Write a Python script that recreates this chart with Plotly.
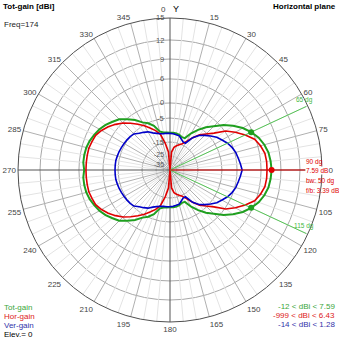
import numpy as np
import plotly.graph_objects as go

# ---------------- data (dBi, azimuth in degrees, clockwise from Y) ----------------
ANGLES = list(range(0, 361, 5))

TOT_GAIN = [
    -11.1, -11.1, -11.2, -11.5, -12.1, -12.0, -9.0, -6.25, -3.7, -1.7,
    0.75, 2.5, 4.25, 5.63, 6.5, 7.0, 7.35, 7.5, 7.59,
    7.5, 7.35, 7.0, 6.5, 5.63, 4.25, 2.5, 0.75, -1.7, -3.7,
    -6.25, -9.0, -12.0, -12.1, -11.5, -11.2, -11.1, -11.1,
    -11.0, -10.8, -10.0, -7.1, -5.2, -4.0, -2.0, -0.3, 1.2, 2.0,
    2.9, 3.6, 4.1, 4.6, 4.9, 5.0, 5.0,
    4.7, 5.0, 5.0, 4.9, 4.6, 4.1, 3.6, 2.9, 2.0, 1.2,
    -0.3, -2.0, -4.0, -5.2, -7.1, -10.0, -10.8, -11.0,
    -11.1,
]

HOR_GAIN = [
    -999, -22.1, -18.6, -17.1, -15.7, -14.6, -12.9, -10.2, -7.5, -5.4,
    -3.2, 0.25, 2.1, 4.0, 5.75, 6.4, 6.8, 6.9, 6.9,
    6.9, 6.8, 6.4, 5.75, 4.0, 2.1, 0.25, -3.2, -5.4,
    -7.5, -10.2, -12.9, -14.6, -15.7, -17.1, -18.6, -22.1, -999,
    -22.1, -15.7, -11.25, -9.2, -7.5, -5.4, -3.7, -2.0, -0.2, 1.0,
    2.1, 3.0, 3.75, 4.0, 4.25, 4.25, 4.25,
    4.25, 4.25, 4.25, 4.25, 4.0, 3.75, 3.0, 2.1, 1.0, -0.2,
    -2.0, -3.7, -5.4, -7.5, -9.2, -11.25, -15.7, -22.1,
    -999,
]

VER_GAIN = [
    -11.4, -11.5, -11.7, -11.9, -12.9, -13.75, -13.75, -10.2, -7.9, -6.25,
    -4.67, -3.3, -2.3, -1.2, -0.33, 0.25, 0.55, 0.9, 1.28,
    0.9, 0.55, 0.25, -0.33, -1.2, -2.3, -3.3, -4.67, -6.25,
    -7.9, -10.2, -13.75, -13.75, -12.9, -11.9, -11.7, -11.5, -11.4,
    -11.3, -11.25, -11.0, -10.4, -9.6, -8.3, -7.5, -6.7, -5.4, -5.0,
    -4.83, -4.67, -4.5, -4.3, -4.17, -4.0, -4.0,
    -4.0, -4.0, -4.0, -4.17, -4.3, -4.5, -4.67, -4.83, -5.0, -5.4,
    -6.7, -7.5, -8.3, -9.6, -10.4, -11.0, -11.25, -11.3,
    -11.4,
]

RING_DB = [15, 12, 9, 6, 0, -5, -15, -25, -35]
RING_LABELS = ["15", "12", "9", "6", "0", "-5", "-15", "-25", "-35"]
ANGLE_TICKS = list(range(0, 360, 15))
ANGLE_LABELS = [""] + [str(a) for a in ANGLE_TICKS[1:]]

MAX_DIR = 90
BW_LOW = 65
BW_HIGH = 115
MAX_GAIN = 7.59
FB_RATIO = 3.39
FREQ = 174
ELEV = 0
TOT_RANGE = ("-12", "7.59")
HOR_RANGE = ("-999", "6.43")
VER_RANGE = ("-14", "1.28")

# --------------- radial log-like scale (dB -> fraction of radius) ---------------
SCALE_DB = [-50, -35, -25, -15, -5, 0, 6, 9, 12, 15]
SCALE_FRAC = [0.0, 0.046, 0.092, 0.184, 0.342, 0.441, 0.599, 0.730, 0.855, 1.0]


def to_r(db):
    return np.interp(np.asarray(db, dtype=float), SCALE_DB, SCALE_FRAC)


W = H = 339
CX, CY, RAD = 170, 170, 152

GREEN = "#1f9f1f"
RED = "#e00000"
BLUE = "#0000c8"
FONT = "Liberation Sans"

fig = go.Figure()


def spokes(angles, r0, r1):
    rr, tt = [], []
    for a in angles:
        rr += [r0, r1, None]
        tt += [a, a, None]
    return rr, tt


minor = [a for a in range(0, 360, 5) if a % 15]
major = [a for a in range(0, 360, 15) if a % 90]
rr, tt = spokes(minor, 0.046, 1.0)
fig.add_trace(go.Scatterpolar(r=rr, theta=tt, mode="lines",
                              line=dict(color="#e3e3e3", width=1),
                              hoverinfo="skip", showlegend=False))
rr, tt = spokes(major, 0.0, 1.0)
fig.add_trace(go.Scatterpolar(r=rr, theta=tt, mode="lines",
                              line=dict(color="#b0b0b0", width=1),
                              hoverinfo="skip", showlegend=False))
rr, tt = spokes([0, 90, 180, 270], 0.0, 1.0)
fig.add_trace(go.Scatterpolar(r=rr, theta=tt, mode="lines",
                              line=dict(color="#555555", width=1),
                              hoverinfo="skip", showlegend=False))

# patterns
for vals, col, wd in [(TOT_GAIN, GREEN, 2), (HOR_GAIN, RED, 1.6), (VER_GAIN, BLUE, 1.6)]:
    fig.add_trace(go.Scatterpolar(r=to_r(vals), theta=ANGLES, mode="lines",
                                  line=dict(color=col, width=wd),
                                  hoverinfo="skip", showlegend=False))

# beamwidth and max-direction lines
rr, tt = spokes([BW_LOW, BW_HIGH], 0.0, 0.99)
fig.add_trace(go.Scatterpolar(r=rr, theta=tt, mode="lines",
                              line=dict(color="#55c455", width=1),
                              hoverinfo="skip", showlegend=False))
fig.add_trace(go.Scatterpolar(r=[0, 0.89], theta=[MAX_DIR, MAX_DIR], mode="lines",
                              line=dict(color=RED, width=1),
                              hoverinfo="skip", showlegend=False))

i_lo, i_hi, i_mx = ANGLES.index(BW_LOW), ANGLES.index(BW_HIGH), ANGLES.index(MAX_DIR)
fig.add_trace(go.Scatterpolar(r=to_r([TOT_GAIN[i_lo], TOT_GAIN[i_hi]]),
                              theta=[BW_LOW, BW_HIGH], mode="markers",
                              marker=dict(color=GREEN, size=6),
                              hoverinfo="skip", showlegend=False))
fig.add_trace(go.Scatterpolar(r=to_r([TOT_GAIN[i_mx]]), theta=[MAX_DIR], mode="markers",
                              marker=dict(color=RED, size=6),
                              hoverinfo="skip", showlegend=False))

dom_x = [(CX - RAD) / W, (CX + RAD) / W]
dom_y = [1 - (CY + RAD) / H, 1 - (CY - RAD) / H]

fig.update_layout(
    width=W, height=H,
    margin=dict(l=0, r=0, t=0, b=0),
    paper_bgcolor="white",
    showlegend=False,
    font=dict(family=FONT, size=8, color="#333333"),
    polar=dict(
        domain=dict(x=dom_x, y=dom_y),
        bgcolor="white",
        angularaxis=dict(
            rotation=90, direction="clockwise",
            tickmode="array", tickvals=ANGLE_TICKS, ticktext=ANGLE_LABELS,
            showgrid=False, showline=True, linecolor="#505050", linewidth=1,
            ticks="", tickfont=dict(size=8, color="#444444", family=FONT),
        ),
        radialaxis=dict(
            range=[0, 1], tickmode="array",
            tickvals=list(to_r(RING_DB)), ticktext=RING_LABELS,
            showgrid=True, gridcolor="#a8a8a8", gridwidth=1,
            showline=False, ticks="", angle=90,
            showticklabels=False,
        ),
    ),
)


def px(x, y):
    return x / W, 1 - y / H


def note(text, x, y, color="#000000", xanchor="left", size=8, bold=False, bg=None):
    xx, yy = px(x, y)
    if bold:
        text = "<b>" + text + "</b>"
    fig.add_annotation(text=text, x=xx, y=yy, xref="paper", yref="paper",
                       xanchor=xanchor, yanchor="middle", showarrow=False,
                       bgcolor=bg, borderpad=0,
                       font=dict(family=FONT, size=size, color=color))


# radial scale labels, placed on the rings just left of the vertical axis
LABEL_NUDGE = {-25: -1.5, -35: 1.5}
for db, lab in zip(RING_DB, RING_LABELS):
    note(lab, CX - 5, CY - float(to_r(db)) * RAD + LABEL_NUDGE.get(db, 0),
         color="#555555", xanchor="right", size=7 if db <= -25 else 7.5)

note("Tot-gain [dBi]", 2, 6, bold=True)
note(f"Freq={FREQ}", 3, 24, color="#222222")
note("Horizontal plane", 337, 6, xanchor="right", bold=True)
note("0", 163, 9, color="#444444", xanchor="center")
note("Y", 176, 9, xanchor="center", size=9)

note(f"{BW_LOW} dg", 295, 100, color="#44b844", size=6.5)
note(f"{BW_HIGH} dg", 293, 226, color="#44b844", size=6.5)

note(f"{MAX_DIR} dg", 305, 162, color=RED, size=6.5)
note(f"{MAX_GAIN} dB", 305, 170, color=RED, size=6.5, bg="white")
note(f"bw: {BW_HIGH - BW_LOW} dg", 305, 181, color=RED, size=6.5)
note(f"f/b: {FB_RATIO} dB", 305, 190, color=RED, size=6.5)

note("Tot-gain", 3, 307, color="#3aa63a")
note("Hor-gain", 3, 316, color="#dd2222")
note("Ver-gain", 3, 325, color="#3333aa")
note(f"Elev.= {ELEV}", 3, 334, color="#000000")

note(f"{TOT_RANGE[0]} < dBi < {TOT_RANGE[1]}", 336, 306, color="#3aa63a", xanchor="right")
note(f"{HOR_RANGE[0]} < dBi < {HOR_RANGE[1]}", 336, 315, color="#dd2222", xanchor="right")
note(f"{VER_RANGE[0]} < dBi < {VER_RANGE[1]}", 336, 324, color="#3333aa", xanchor="right")

fig.write_html("out.html", config={"displayModeBar": False})
